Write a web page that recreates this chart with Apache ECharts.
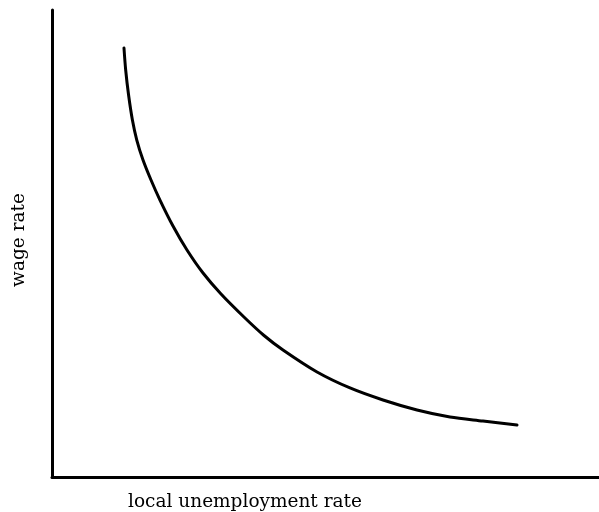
<!DOCTYPE html>
<html>
<head>
<meta charset="utf-8">
<script src="https://cdn.jsdelivr.net/npm/echarts@6/dist/echarts.min.js"></script>
<style>html,body{margin:0;padding:0;background:#fff}#c{width:599px;height:512px}</style>
</head>
<body>
<div id="c"></div>
<script>
const xLabel = 'local unemployment rate';
const yLabel = 'wage rate';
const unemployment = [13.16, 13.47, 14.00, 14.70, 15.50, 16.64, 18.10, 19.74, 22.12, 24.68, 27.61, 30.90, 35.28, 38.76, 42.23, 48.45, 54.48, 60.51, 66.73, 72.76, 78.79, 85.01];
const wage = [91.86, 87.15, 81.80, 76.45, 72.16, 67.88, 63.60, 59.31, 53.75, 48.61, 43.68, 39.19, 34.05, 30.30, 27.19, 22.48, 19.06, 16.49, 14.35, 12.85, 11.99, 11.13];

const chart = echarts.init(document.getElementById('c'));
const pts = unemployment.map((x, i) => [x, wage[i]]);
chart.setOption({
  animation: false,
  backgroundColor: '#fff',
  grid: {left: 52, right: 0, top: 10, bottom: 35},
  xAxis: {type: 'value', min: 0, max: 100,
    axisLine: {show: true, lineStyle: {color: '#000', width: 3}},
    axisTick: {show: false}, axisLabel: {show: false}, splitLine: {show: false}},
  yAxis: {type: 'value', min: 0, max: 100,
    axisLine: {show: true, lineStyle: {color: '#000', width: 3}},
    axisTick: {show: false}, axisLabel: {show: false}, splitLine: {show: false}},
  series: [{type: 'line', data: pts, smooth: 0.3, showSymbol: false,
    lineStyle: {color: '#000', width: 3, cap: 'round'}}],
  graphic: [
    {type: 'text', x: 245, y: 502, style: {text: xLabel, fill: '#000', font: '18.5px "DejaVu Serif"', textAlign: 'center', textVerticalAlign: 'middle'}},
    {type: 'text', x: 19, y: 240, rotation: Math.PI / 2, style: {text: yLabel, fill: '#000', font: '18.5px "DejaVu Serif"', textAlign: 'center', textVerticalAlign: 'middle'}}
  ]
});
</script>
</body>
</html>
